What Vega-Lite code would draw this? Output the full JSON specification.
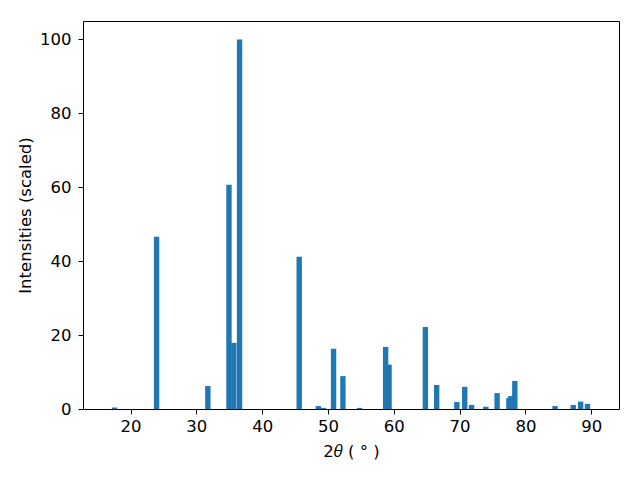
{
  "$schema": "https://vega.github.io/schema/vega-lite/v6.json",
  "width": 536,
  "height": 388,
  "autosize": {"type": "none"},
  "padding": {"left": 83, "top": 21, "right": 21, "bottom": 71},
  "background": "white",
  "config": {
    "font": "DejaVu Sans",
    "view": {"stroke": "black", "strokeWidth": 1},
    "axis": {
      "grid": false,
      "domain": false,
      "tickColor": "black",
      "tickSize": 5,
      "tickWidth": 1,
      "labelColor": "black",
      "labelFontSize": 16.5,
      "titleColor": "black",
      "titleFontSize": 16.5,
      "titleFontWeight": "normal",
      "labelFont": "DejaVu Sans",
      "titleFont": "DejaVu Sans"
    }
  },
  "data": {
    "values": [
      {"theta": 17.57, "intensity": 0.4},
      {"theta": 23.96, "intensity": 46.6},
      {"theta": 31.75, "intensity": 6.2},
      {"theta": 34.96, "intensity": 60.7},
      {"theta": 35.7, "intensity": 17.9},
      {"theta": 36.57, "intensity": 100},
      {"theta": 45.63, "intensity": 41.2},
      {"theta": 48.54, "intensity": 0.8},
      {"theta": 49.3, "intensity": 0.3},
      {"theta": 50.85, "intensity": 16.3},
      {"theta": 52.27, "intensity": 8.9},
      {"theta": 54.8, "intensity": 0.3},
      {"theta": 58.76, "intensity": 16.8},
      {"theta": 59.28, "intensity": 12.0},
      {"theta": 64.8, "intensity": 22.2},
      {"theta": 66.52, "intensity": 6.5},
      {"theta": 69.58, "intensity": 1.9},
      {"theta": 70.78, "intensity": 6.0},
      {"theta": 71.82, "intensity": 1.1},
      {"theta": 73.99, "intensity": 0.6},
      {"theta": 75.7, "intensity": 4.3},
      {"theta": 77.49, "intensity": 3.0},
      {"theta": 77.79, "intensity": 3.5},
      {"theta": 78.39, "intensity": 7.6},
      {"theta": 84.5, "intensity": 0.8},
      {"theta": 87.27, "intensity": 1.1},
      {"theta": 88.39, "intensity": 2.0},
      {"theta": 89.43, "intensity": 1.4}
    ]
  },
  "mark": {"type": "bar", "size": 5.37, "color": "#1f77b4", "orient": "vertical"},
  "encoding": {
    "x": {
      "field": "theta",
      "type": "quantitative",
      "scale": {"domain": [13.54, 93.46], "nice": false, "zero": false},
      "axis": {"values": [20, 30, 40, 50, 60, 70, 80, 90], "title": "2𝜃 ( ° )", "labelPadding": 4, "titlePadding": 9}
    },
    "y": {
      "field": "intensity",
      "type": "quantitative",
      "scale": {"domain": [0, 105], "nice": false},
      "axis": {"values": [0, 20, 40, 60, 80, 100], "title": "Intensities (scaled)", "labelPadding": 7, "titlePadding": 6}
    }
  }
}
